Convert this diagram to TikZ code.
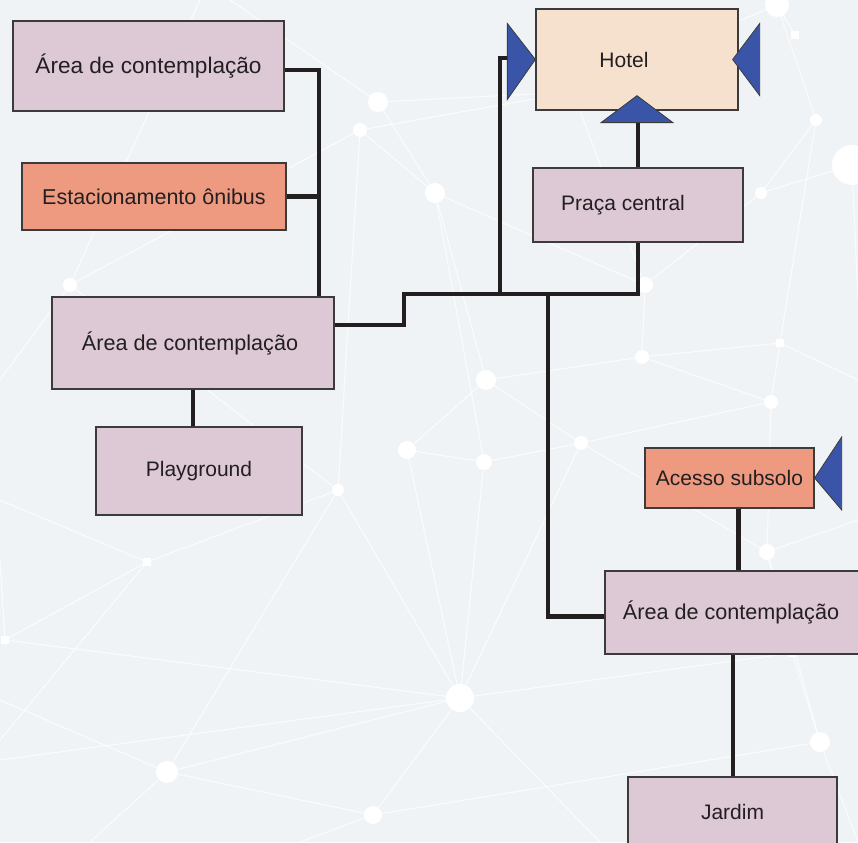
\documentclass[tikz,border=0pt]{standalone}
\usepackage{fontspec}
\setmainfont{Liberation Sans}
\usetikzlibrary{positioning}

\definecolor{fundo}{HTML}{EFF3F6}
\definecolor{lilas}{HTML}{DDC8D6}
\definecolor{salmao}{HTML}{EE9A80}
\definecolor{pele}{HTML}{F6E1CF}
\definecolor{azul}{HTML}{3A55A8}
\definecolor{borda}{HTML}{3B3B3B}
\definecolor{fio}{HTML}{231F20}

\begin{document}
\begin{tikzpicture}[x=1pt,y=-1pt,
      every node/.style={rectangle,draw=borda,line width=1.3pt,inner sep=0pt,
                         font=\fontsize{21}{25}\selectfont,text=fio},
      lugar/.style={fill=lilas},
      acesso/.style={fill=salmao},
      grande/.style={font=\fontsize{22.6}{26}\selectfont},
      wire/.style={draw=fio,line width=4.5pt},
      seta/.style={fill=azul,draw=borda,line width=0.8pt,line join=miter},
      rede/.style={draw=white,line width=1pt,opacity=0.75},
      ponto/.style={fill=white}]
    \useasboundingbox (0,0) rectangle (858,842);
    \clip (0,0) rectangle (858,842);
    \fill[fundo] (0,0) rectangle (858,842);

    % network in the background
    \foreach \n/\p in {1/{378,102},2/{360,130},3/{435,193},4/{486,380},5/{407,450},
        6/{484,462},7/{581,443},8/{338,490},9/{642,357},10/{645,285},11/{70,285},
        12/{460,698},13/{167,772},14/{373,815},15/{777,5},16/{816,120},17/{761,193},
        18/{852,165},19/{771,402},20/{767,552},21/{820,742},22/{147,562},23/{5,640},
        24/{780,343},25/{795,35},26/{792,653},27/{700,37},28/{573,92}}
      \coordinate (p\n) at (\p);
    \foreach \a/\b in {1/3,2/3,1/28,2/28,3/6,3/4,2/8,8/13,8/12,8/22,5/4,5/6,5/12,
        4/9,4/7,6/7,9/10,9/24,9/19,7/20,12/13,12/14,12/23,12/26,13/14,20/19,20/26,
        21/26,21/20,16/17,16/15,17/18,15/25,17/10,16/24,22/23,11/8,11/2,7/12,6/12,
        3/10,19/24,14/21,28/27,27/15,10/28,7/19}
      \draw[rede] (p\a) -- (p\b);
    \draw[rede] (p11) -- (0,380);
    \draw[rede] (p1) -- (230,0);
    \draw[rede] (p22) -- (0,500);
    \draw[rede] (p13) -- (0,700);
    \draw[rede] (p23) -- (0,560) (p12) -- (0,760) (p12) -- (600,842);
    \draw[rede] (p18) -- (858,300) (p21) -- (858,842) (p14) -- (300,842);
    \draw[rede] (p26) -- (858,600) (p20) -- (858,520) (p24) -- (858,380);
    \draw[rede] (p11) -- (200,0) (p22) -- (0,740) (p13) -- (90,842);
    \foreach \n/\r in {1/10,2/7,3/10,4/10,5/9,6/8,7/7,8/6,9/7,10/8,11/7,12/14,
        13/11,14/9,15/12,16/6,17/6,18/20,19/7,20/8,21/10}
      \fill[ponto] (p\n) circle (\r);
    \foreach \n in {22,23,24,25,26}
      \fill[ponto] ([shift={(-4,-4)}]p\n) rectangle ++(8,8);

    % places
    \node[lugar,grande,minimum width=271pt,minimum height=90pt] (area1) at (148.5,66) {Área de contemplação};
    \node[acesso,font=\fontsize{21.5}{25}\selectfont,minimum width=264pt,minimum height=67pt] (onibus) at (154,196.5) {Estacionamento ônibus};
    \node[lugar,font=\fontsize{21.6}{25}\selectfont,minimum width=282pt,minimum height=92pt] (area2) at (193,343) {Área de contemplação\hspace*{6pt}};
    \node[lugar,minimum width=206pt,minimum height=88pt] (playground) at (199,471) {Playground};
    \node[fill=pele,minimum width=202pt,minimum height=101pt] (hotel) at (637,59.5) {\raisebox{-3pt}{Hotel}\hspace*{26pt}};
    \node[lugar,minimum width=210pt,minimum height=74pt] (praca) at (638,205) {\raisebox{-3pt}{Praça central}\hspace*{30pt}};
    \node[acesso,minimum width=169pt,minimum height=60pt] (subsolo) at (729.5,478) {Acesso subsolo};
    \node[lugar,font=\fontsize{21.6}{25}\selectfont,minimum width=256pt,minimum height=83pt] (area3) at (733,612.5) {Área de contemplação\hspace*{4pt}};
    \node[lugar,minimum width=209pt,minimum height=72pt] (jardim) at (732.5,813) {\raisebox{3pt}{Jardim}};

    % paths between places
    \coordinate (j1) at (319,70);
    \coordinate (degrau) at (404,294);
    \coordinate (bus) at (500,294);
    \coordinate (desce) at (548,294);
    \draw[wire] (area1.east |- j1) -- (j1) -- (j1 |- area2.north);
    \draw[wire] (onibus.east) -- (onibus.east -| j1);
    \draw[wire] ([yshift=18pt]area2.east) -| (degrau) -| (praca.south);
    \draw[wire] (bus) -- (500,58) -- (511,58);
    \draw[wire] (desce) |- ([yshift=-4pt]area3.west);
    \draw[wire] (praca.north) -- ([yshift=-12pt]hotel.south -| praca.north);
    \draw[wire] (area2.south) -- (area2.south |- playground.north);
    \draw[wire] ([xshift=9pt]subsolo.south) -- ([xshift=9pt]subsolo.south |- area3.north);
    \draw[wire] (area3.south) -- (area3.south |- jardim.north);

    % entrances
    \draw[seta] (hotel.west) -- ++(-28,-36) -- ++(0,76) -- cycle;
    \draw[seta] ([xshift=-6pt]hotel.east) -- ++(27,-36) -- ++(0,72) -- cycle;
    \draw[seta] ([yshift=15pt]hotel.south) -- ++(36,27) -- ++(-72,0) -- cycle;
    \draw[seta] (subsolo.east) -- ++(27,-41) -- ++(0,73) -- cycle;
  \end{tikzpicture}
\end{document}
